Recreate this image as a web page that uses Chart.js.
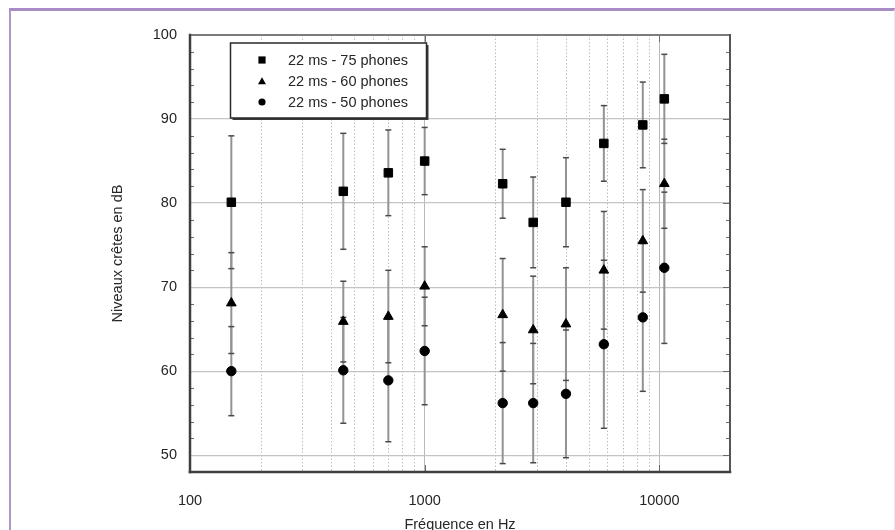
<!DOCTYPE html>
<html lang="fr">
<head>
<meta charset="utf-8">
<title>Niveaux crêtes en fonction de la fréquence</title>
<script src="https://cdn.jsdelivr.net/npm/chart.js@4.4.1/dist/chart.umd.min.js"></script>
<style>
  html, body { margin: 0; padding: 0; background: #fff; }
  body { width: 895px; height: 530px; overflow: hidden; position: relative; }
  #frame {
    position: absolute; left: 9px; top: 8px; width: 886px; height: 540px;
    box-sizing: border-box;
    border-top: 3px solid #a98cc6;
    border-left: 2px solid #ae95ca;
    border-right: 1px solid #ebe5f3;
  }
  #chart { position: absolute; left: 0; top: 0; }
</style>
</head>
<body>
<div id="frame"></div>
<canvas id="chart" width="895" height="530"></canvas>
<script>
// Centre frequencies of the measured bands (Hz)
const frequencies = [150, 450, 700, 1000, 2150, 2900, 4000, 5800, 8500, 10500];

// Mean peak levels (dB) and half-width of the error bars (dB) per loudness level
const levels75 = [80.1, 81.4, 83.6, 85.0, 82.3, 77.7, 80.1, 87.1, 89.3, 92.4];
const spread75 = [7.9, 6.9, 5.1, 4.0, 4.1, 5.4, 5.3, 4.5, 5.1, 5.3];

const levels60 = [68.1, 65.9, 66.5, 70.1, 66.7, 64.9, 65.6, 72.0, 75.5, 82.3];
const spread60 = [6.0, 4.8, 5.5, 4.7, 6.7, 6.4, 6.7, 7.0, 6.1, 5.3];

const levels50 = [60.0, 60.1, 58.9, 62.4, 56.2, 56.2, 57.3, 63.2, 66.4, 72.3];
const spread50 = [5.3, 6.3, 7.3, 6.4, 7.2, 7.1, 7.6, 10.0, 8.8, 9.0];

const seriesNames = ['22 ms - 75 phones', '22 ms - 60 phones', '22 ms - 50 phones'];

// Axis ticks
const xMajorTicks = [100, 1000, 10000];
const xTickLabels = ['100', '1000', '10000'];
const xMinorTicks = [200, 300, 400, 500, 600, 700, 800, 900,
                     2000, 3000, 4000, 5000, 6000, 7000, 8000, 9000];
const yTicks = [50, 60, 70, 80, 90, 100];
const yTickLabels = ['50', '60', '70', '80', '90', '100'];
const yMinorTicks = [52, 54, 56, 58, 62, 64, 66, 68, 72, 74, 76, 78,
                     82, 84, 86, 88, 92, 94, 96, 98];

const FONT = '"Liberation Sans", Arial, Helvetica, sans-serif';
const TEXT = '#262626';

function toPoints(levels) {
  return frequencies.map((f, i) => ({ x: f, y: levels[i] }));
}

function seg(ctx, x1, y1, x2, y2) {
  ctx.beginPath(); ctx.moveTo(x1, y1); ctx.lineTo(x2, y2); ctx.stroke();
}

function drawMarker(ctx, style, cx, cy, s) {
  ctx.beginPath();
  if (style === 'rect') {
    ctx.rect(cx - s, cy - s, 2 * s, 2 * s);
  } else if (style === 'triangle') {
    ctx.moveTo(cx, cy - s * 1.1);
    ctx.lineTo(cx + s * 1.05, cy + s * 0.75);
    ctx.lineTo(cx - s * 1.05, cy + s * 0.75);
    ctx.closePath();
  } else {
    ctx.arc(cx, cy, s, 0, Math.PI * 2);
  }
  ctx.fill();
}

// Grid extras, error bars, plot frame and the boxed legend
const decorPlugin = {
  id: 'decor',
  beforeDatasetsDraw(chart) {
    const { ctx, chartArea: a, scales: { x, y } } = chart;
    ctx.save();

    // dotted minor vertical grid lines
    ctx.strokeStyle = '#bdbdbd';
    ctx.lineWidth = 1;
    ctx.setLineDash([1.5, 2]);
    xMinorTicks.forEach(v => {
      const px = Math.round(x.getPixelForValue(v)) + 0.5;
      seg(ctx, px, a.top, px, a.bottom);
    });
    ctx.setLineDash([]);

    // minor ticks on the left and right axes
    ctx.strokeStyle = '#6a6a6a';
    ctx.lineWidth = 1;
    yMinorTicks.forEach(v => {
      const py = Math.round(y.getPixelForValue(v)) + 0.5;
      seg(ctx, a.left, py, a.left + 4, py);
      seg(ctx, a.right - 4, py, a.right, py);
    });
    // major ticks on the right axis
    yTicks.forEach(v => {
      const py = Math.round(y.getPixelForValue(v)) + 0.5;
      seg(ctx, a.right - 7, py, a.right, py);
    });
    // major ticks on the top and bottom axes
    xMajorTicks.slice(1).forEach(v => {
      const px = Math.round(x.getPixelForValue(v)) + 0.5;
      seg(ctx, px, a.top, px, a.top + 7);
      seg(ctx, px, a.bottom - 7, px, a.bottom);
    });

    // error bars: stems first, then caps
    const sets = chart.data.datasets;
    ctx.strokeStyle = '#939393';
    ctx.lineWidth = 2;
    sets.forEach(ds => {
      ds.data.forEach((p, i) => {
        const e = ds.errors[i];
        const px = x.getPixelForValue(p.x);
        seg(ctx, px, y.getPixelForValue(p.y + e), px, y.getPixelForValue(p.y - e));
      });
    });
    ctx.strokeStyle = '#4a4a4a';
    ctx.lineWidth = 1.5;
    sets.forEach(ds => {
      ds.data.forEach((p, i) => {
        const e = ds.errors[i];
        const px = x.getPixelForValue(p.x);
        [p.y + e, p.y - e].forEach(v => {
          const py = y.getPixelForValue(v);
          seg(ctx, px - 3, py, px + 3, py);
        });
      });
    });

    // plot frame
    ctx.lineCap = 'square';
    ctx.strokeStyle = '#7c7c7c';
    ctx.lineWidth = 2;
    seg(ctx, a.left, a.top, a.right, a.top);
    ctx.strokeStyle = '#555';
    seg(ctx, a.right, a.top, a.right, a.bottom);
    ctx.strokeStyle = '#3f3f3f';
    ctx.lineWidth = 2.5;
    seg(ctx, a.left, a.bottom, a.right, a.bottom);
    seg(ctx, a.left, a.top, a.left, a.bottom);
    ctx.restore();
  },
  afterDraw(chart) {
    const { ctx, chartArea: a } = chart;
    const bx = a.left + 40.5, by = a.top + 8, bw = 196, bh = 75;
    ctx.save();
    // shadowed box
    ctx.fillStyle = '#3a3a3a';
    ctx.fillRect(bx + 2, by + 2, bw, bh);
    ctx.fillStyle = '#fff';
    ctx.fillRect(bx, by, bw, bh);
    ctx.strokeStyle = '#2a2a2a';
    ctx.lineWidth = 1.5;
    ctx.strokeRect(bx, by, bw, bh);

    const rows = [by + 17, by + 38.5, by + 59];
    chart.data.datasets.forEach((ds, i) => {
      ctx.fillStyle = '#000';
      drawMarker(ctx, ds.pointStyle, bx + 31.5, rows[i], ds.pointStyle === 'triangle' ? 3.8 : 3.6);
      ctx.fillStyle = TEXT;
      ctx.font = '14.5px ' + FONT;
      ctx.textAlign = 'left';
      ctx.textBaseline = 'middle';
      ctx.fillText(ds.label, bx + 57.5, rows[i] + 0.5);
    });
    ctx.restore();
  }
};

const makeSet = (label, levels, spread, style, r) => ({
  label,
  data: toPoints(levels),
  errors: spread,
  pointStyle: style,
  radius: r,
  backgroundColor: '#000',
  borderColor: '#000',
  borderWidth: 1
});

new Chart(document.getElementById('chart'), {
  type: 'scatter',
  data: {
    datasets: [
      makeSet(seriesNames[0], levels75, spread75, 'rect', 6),
      makeSet(seriesNames[1], levels60, spread60, 'triangle', 5.6),
      makeSet(seriesNames[2], levels50, spread50, 'circle', 4.7)
    ]
  },
  options: {
    responsive: false,
    animation: false,
    devicePixelRatio: 1,
    layout: { padding: { left: 100, top: 35, right: 165, bottom: 0 } },
    plugins: { legend: { display: false }, tooltip: { enabled: false } },
    scales: {
      x: {
        type: 'logarithmic',
        position: 'bottom',
        min: 100,
        max: 20000,
        afterBuildTicks: s => { s.ticks = xMajorTicks.map(v => ({ value: v, major: true })); },
        afterFit: s => { s.height = 58; },
        grid: { color: '#b9b9b9', lineWidth: 1, drawTicks: false },
        border: { display: false },
        ticks: {
          padding: 20, color: TEXT, autoSkip: false, maxRotation: 0,
          font: { family: FONT, size: 14.5 },
          callback: (v, i) => xTickLabels[i]
        },
        title: {
          display: true, text: 'Fréquence en Hz', color: TEXT,
          font: { family: FONT, size: 14.5 },
          padding: { top: 0, bottom: -3.2 }
        }
      },
      y: {
        min: 48,
        max: 100,
        afterBuildTicks: s => { s.ticks = yTicks.map(v => ({ value: v })); },
        afterFit: s => { s.width = 90; },
        grid: { color: '#c4c4c4', lineWidth: 1.2, drawTicks: false },
        border: { display: false },
        ticks: {
          padding: 13, color: TEXT,
          font: { family: FONT, size: 14.5 },
          callback: (v, i) => yTickLabels[i]
        },
        title: {
          display: true, text: 'Niveaux crêtes en dB', color: TEXT,
          font: { family: FONT, size: 14.5 },
          padding: { top: 8.8, bottom: 0 }
        }
      }
    }
  },
  plugins: [decorPlugin]
});
</script>
</body>
</html>
